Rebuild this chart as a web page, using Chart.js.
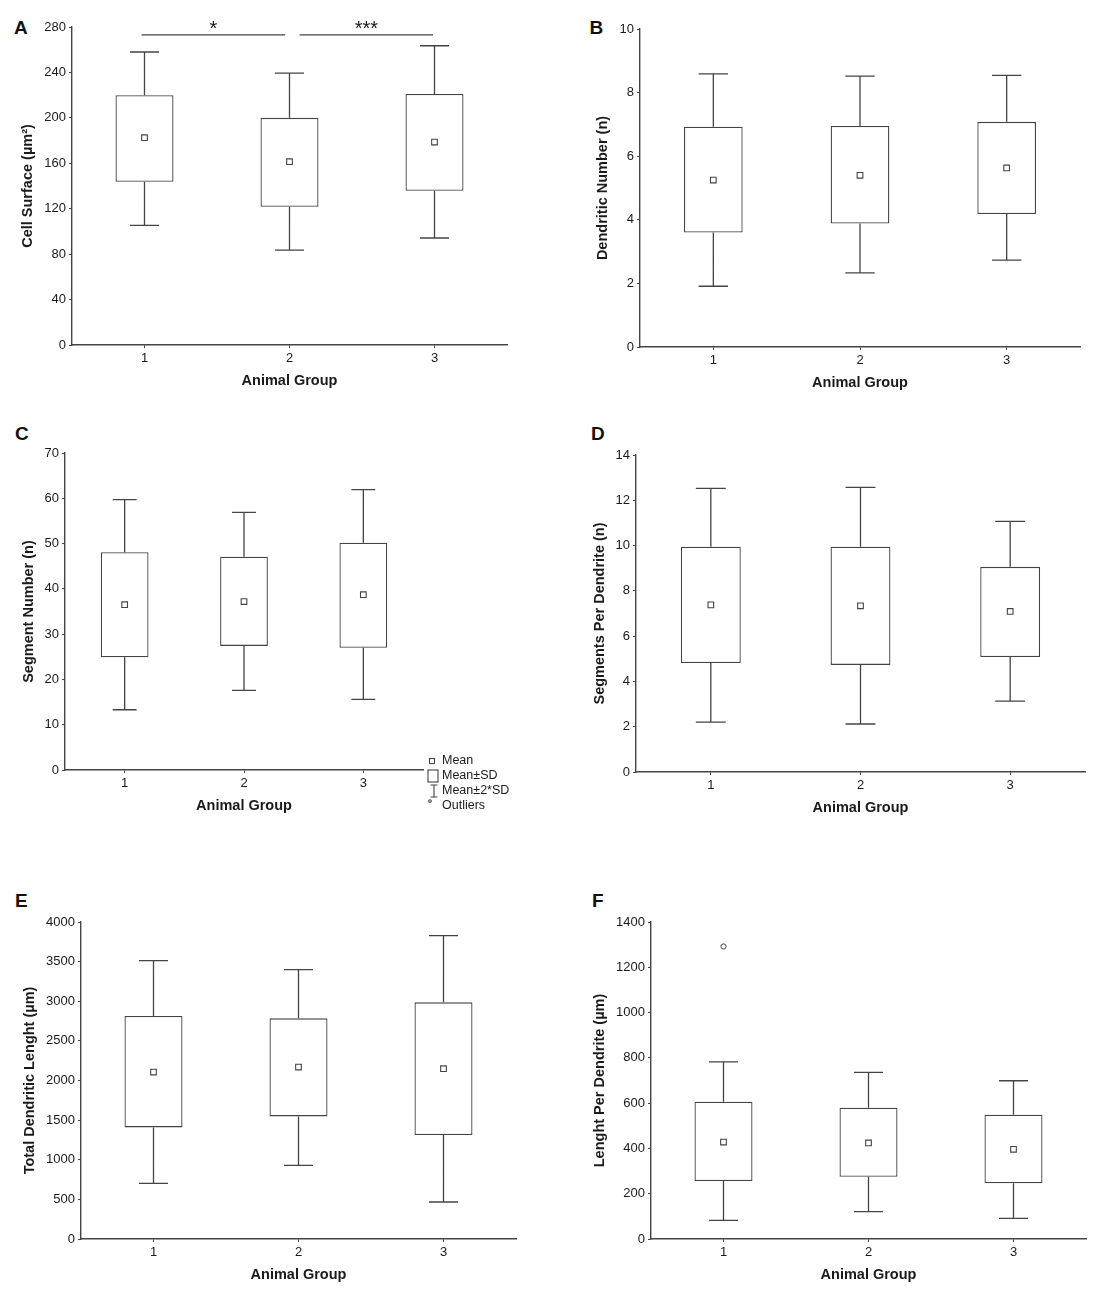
<!DOCTYPE html>
<html>
<head>
<meta charset="utf-8">
<title>Dendritic morphology by animal group</title>
<script src="https://cdn.jsdelivr.net/npm/chart.js@4.4.1/dist/chart.umd.min.js"></script>
<style>
  body { margin: 0; background: #fff; }
  #page { position: relative; width: 1102px; height: 1300px; overflow: hidden; }
  #page canvas { position: absolute; }
  .tag { position: absolute; font: bold 19px "Liberation Sans", Arial, sans-serif; line-height: 19px; color: #111; }
</style>
</head>
<body>
<div id="page"></div>
<script>
// ---- data ----
const groups = [1, 2, 3];

// A: cell surface
const cellMean = [182.5, 161.4, 178.7];
const cellSdLow = [143.8, 121.7, 135.8];
const cellSdHigh = [220.0, 200.0, 221.0];
const cell2SdLow = [105.3, 83.6, 94.2];
const cell2SdHigh = [258.0, 239.4, 263.5];
// significance brackets in A
const sigFrom = [0.98, 2.07];
const sigTo = [1.97, 2.99];
const sigLabels = ['*', '***'];
const sigLevel = 273;

// B: dendritic number
const dendMean = [5.25, 5.40, 5.63];
const dendSdLow = [3.60, 3.88, 4.18];
const dendSdHigh = [6.93, 6.95, 7.08];
const dend2SdLow = [1.91, 2.33, 2.73];
const dend2SdHigh = [8.59, 8.52, 8.54];

// C: segment number
const segMean = [36.5, 37.2, 38.7];
const segSdLow = [24.9, 27.4, 27.0];
const segSdHigh = [48.1, 47.1, 50.2];
const seg2SdLow = [13.3, 17.6, 15.6];
const seg2SdHigh = [59.7, 56.9, 61.9];

// D: segments per dendrite
const spdMean = [7.38, 7.34, 7.09];
const spdSdLow = [4.81, 4.73, 5.08];
const spdSdHigh = [9.95, 9.95, 9.06];
const spd2SdLow = [2.20, 2.12, 3.13];
const spd2SdHigh = [12.53, 12.57, 11.07];

// E: total dendritic length
const tdlMean = [2107, 2170, 2149];
const tdlSdLow = [1408, 1547, 1312];
const tdlSdHigh = [2814, 2784, 2986];
const tdl2SdLow = [702, 929, 467];
const tdl2SdHigh = [3512, 3398, 3827];

// F: length per dendrite
const lpdMean = [428, 424, 396];
const lpdSdLow = [256, 275, 246];
const lpdSdHigh = [606, 580, 549];
const lpd2SdLow = [82, 121, 91];
const lpd2SdHigh = [782, 736, 699];
const lpdOutGroup = [1];
const lpdOutValue = [1292];

// axes
const yMax = [280, 10, 70, 14, 4000, 1400];
const yStep = [40, 2, 10, 2, 500, 200];
const yTitles = ['Cell Surface (µm²)', 'Dendritic Number (n)', 'Segment Number (n)',
  'Segments Per Dendrite (n)', 'Total Dendritic Lenght (µm)', 'Lenght Per Dendrite (µm)'];
const xTitle = 'Animal Group';
const panelTags = ['A', 'B', 'C', 'D', 'E', 'F'];
const legendLabels = ['Mean', 'Mean±SD', 'Mean±2*SD', 'Outliers'];

// ---- look ----
const FONT = '"Liberation Sans", Arial, Helvetica, sans-serif';
const INK = '#444444';
const TEXT = '#1a1a1a';
const CAP = 0.1;          // half width of whisker caps (group units)
const Y_AXIS_W = 62;
const X_AXIS_H = 46;
const PAD_TOP = 14;

// plot rectangles on the page
const layout = [
  { l: 72, t: 27, r: 507, b: 345, titleX: 28, tagX: 14, tagY: 20.7 },
  { l: 640, t: 29, r: 1080, b: 347, titleX: 603, tagX: 589.5, tagY: 20.7 },
  { l: 65, t: 453, r: 423, b: 770, titleX: 29, tagX: 15, tagY: 426.7 },
  { l: 636, t: 455, r: 1085, b: 772, titleX: 600, tagX: 591, tagY: 426.7 },
  { l: 81, t: 922, r: 516, b: 1239, titleX: 30, tagX: 15, tagY: 893.3 },
  { l: 651, t: 922, r: 1086, b: 1239, titleX: 600, tagX: 592, tagY: 893.3 }
];

const panels = [
  { mean: cellMean, lo: cellSdLow, hi: cellSdHigh, lo2: cell2SdLow, hi2: cell2SdHigh },
  { mean: dendMean, lo: dendSdLow, hi: dendSdHigh, lo2: dend2SdLow, hi2: dend2SdHigh },
  { mean: segMean, lo: segSdLow, hi: segSdHigh, lo2: seg2SdLow, hi2: seg2SdHigh },
  { mean: spdMean, lo: spdSdLow, hi: spdSdHigh, lo2: spd2SdLow, hi2: spd2SdHigh },
  { mean: tdlMean, lo: tdlSdLow, hi: tdlSdHigh, lo2: tdl2SdLow, hi2: tdl2SdHigh },
  { mean: lpdMean, lo: lpdSdLow, hi: lpdSdHigh, lo2: lpd2SdLow, hi2: lpd2SdHigh,
    outX: lpdOutGroup, outY: lpdOutValue }
];

Chart.defaults.font.family = FONT;
Chart.defaults.color = TEXT;

function whiskerData(p) {
  const pts = [];
  groups.forEach((x, i) => {
    pts.push({ x: x, y: p.hi[i] }, { x: x, y: p.hi2[i] }, { x: x, y: null });
    pts.push({ x: x - CAP, y: p.hi2[i] }, { x: x + CAP, y: p.hi2[i] }, { x: x, y: null });
    pts.push({ x: x, y: p.lo[i] }, { x: x, y: p.lo2[i] }, { x: x, y: null });
    pts.push({ x: x - CAP, y: p.lo2[i] }, { x: x + CAP, y: p.lo2[i] }, { x: x, y: null });
  });
  return pts;
}

function sigData() {
  const pts = [];
  sigFrom.forEach((a, i) => {
    pts.push({ x: a, y: sigLevel }, { x: sigTo[i], y: sigLevel }, { x: a, y: null });
  });
  return pts;
}

// stars over the brackets (panel A)
const starsPlugin = {
  id: 'stars',
  afterDraw(chart) {
    const ctx = chart.ctx, xs = chart.scales.x, ys = chart.scales.y;
    ctx.save();
    ctx.fillStyle = TEXT;
    ctx.font = '20px ' + FONT;
    ctx.textAlign = 'center';
    ctx.textBaseline = 'alphabetic';
    sigLabels.forEach((s, i) => {
      const mx = xs.getPixelForValue((sigFrom[i] + sigTo[i]) / 2);
      ctx.fillText(s, mx, ys.getPixelForValue(sigLevel) + 0.5);
    });
    ctx.restore();
  }
};

// key in panel C
const keyPlugin = {
  id: 'key',
  afterDraw(chart) {
    const ctx = chart.ctx, a = chart.chartArea;
    const lx = a.right + 5;
    const rows = [a.bottom - 9, a.bottom + 6, a.bottom + 21, a.bottom + 36];
    ctx.save();
    ctx.strokeStyle = INK;
    ctx.fillStyle = '#fff';
    ctx.lineWidth = 1.1;
    // mean square
    ctx.fillRect(lx + 1.5, rows[0] - 2.5, 5, 5);
    ctx.strokeRect(lx + 1.5, rows[0] - 2.5, 5, 5);
    // box
    ctx.strokeRect(lx, rows[1] - 6, 10, 12);
    // whisker
    ctx.beginPath();
    ctx.moveTo(lx + 6, rows[2] - 6); ctx.lineTo(lx + 6, rows[2] + 6);
    ctx.moveTo(lx + 2.5, rows[2] - 6); ctx.lineTo(lx + 9.5, rows[2] - 6);
    ctx.moveTo(lx + 2.5, rows[2] + 6); ctx.lineTo(lx + 9.5, rows[2] + 6);
    ctx.stroke();
    // outlier
    ctx.beginPath();
    ctx.arc(lx + 2, rows[3] - 5, 1.3, 0, Math.PI * 2);
    ctx.stroke();
    ctx.fillStyle = TEXT;
    ctx.font = '12.5px ' + FONT;
    ctx.textAlign = 'left';
    ctx.textBaseline = 'middle';
    legendLabels.forEach((t, i) => ctx.fillText(t, lx + 14, rows[i]));
    ctx.restore();
  }
};

const page = document.getElementById('page');

panels.forEach((p, k) => {
  const g = layout[k];
  const padRight = k === 2 ? 100 : 12;
  const cl = g.l - Y_AXIS_W, ct = g.t - PAD_TOP;
  const w = g.r + padRight - cl, h = g.b + X_AXIS_H - ct;

  const tag = document.createElement('div');
  tag.className = 'tag';
  tag.textContent = panelTags[k];
  tag.style.left = g.tagX + 'px';
  tag.style.top = (g.tagY - 2.5) + 'px';
  page.appendChild(tag);

  const cv = document.createElement('canvas');
  cv.width = w; cv.height = h;
  cv.style.left = cl + 'px'; cv.style.top = ct + 'px';
  cv.style.width = w + 'px'; cv.style.height = h + 'px';
  page.appendChild(cv);

  const datasets = [
    {
      type: 'line',
      data: groups.map((x, i) => ({ x: x, y: p.mean[i] })),
      showLine: false,
      pointStyle: 'rect',
      pointRadius: 4,
      pointBackgroundColor: '#fff',
      pointBorderColor: INK,
      pointBorderWidth: 1.1,
      order: 0
    },
    {
      type: 'bar',
      data: groups.map((x, i) => ({ x: x, y: [p.lo[i], p.hi[i]] })),
      backgroundColor: '#fff',
      borderColor: INK,
      borderWidth: 1.3,
      borderSkipped: false,
      barPercentage: 0.4,
      categoryPercentage: 1,
      order: 1
    },
    {
      type: 'line',
      data: whiskerData(p),
      borderColor: INK,
      borderWidth: 1.3,
      pointRadius: 0,
      spanGaps: false,
      tension: 0,
      order: 2
    }
  ];
  if (p.outX) {
    datasets.push({
      type: 'line',
      data: p.outX.map((x, i) => ({ x: x, y: p.outY[i] })),
      showLine: false,
      pointStyle: 'circle',
      pointRadius: 2.6,
      pointBackgroundColor: '#fff',
      pointBorderColor: INK,
      pointBorderWidth: 1,
      order: 0
    });
  }
  if (k === 0) {
    datasets.push({
      type: 'line',
      data: sigData(),
      borderColor: INK,
      borderWidth: 1.3,
      pointRadius: 0,
      spanGaps: false,
      order: 2
    });
  }

  const plugins = [];
  if (k === 0) plugins.push(starsPlugin);
  if (k === 2) plugins.push(keyPlugin);

  new Chart(cv, {
    type: 'bar',
    data: { datasets: datasets },
    plugins: plugins,
    options: {
      responsive: false,
      animation: false,
      events: [],
      layout: { padding: { top: PAD_TOP, right: padRight, left: 0, bottom: 0 } },
      plugins: { legend: { display: false }, tooltip: { enabled: false } },
      scales: {
        x: {
          type: 'linear',
          min: 0.5,
          max: 3.5,
          offset: false,
          afterBuildTicks: s => { s.ticks = groups.map(v => ({ value: v })); },
          afterFit: s => { s.height = X_AXIS_H; },
          ticks: { color: TEXT, font: { size: 13 }, padding: 2.5, callback: v => String(v) },
          grid: { offset: false, drawOnChartArea: false, drawTicks: true, tickLength: 3, color: INK, lineWidth: 1 },
          border: { display: true, color: INK, width: 1.4 },
          title: {
            display: true, text: xTitle, color: TEXT,
            font: { size: 14.5, weight: 'bold' },
            padding: { top: 0, bottom: 1.8 }
          }
        },
        y: {
          min: 0,
          max: yMax[k],
          afterFit: s => { s.width = Y_AXIS_W; },
          ticks: { stepSize: yStep[k], color: TEXT, font: { size: 13 }, padding: 3, callback: v => String(v) },
          grid: { drawOnChartArea: false, drawTicks: true, tickLength: 3, color: INK, lineWidth: 1 },
          border: { display: true, color: INK, width: 1.4 },
          title: {
            display: true, text: yTitles[k], color: TEXT,
            font: { size: 14.5, weight: 'bold' },
            padding: { top: g.titleX - cl - 8.7, bottom: 0 }
          }
        }
      }
    }
  });
});
</script>
</body>
</html>
